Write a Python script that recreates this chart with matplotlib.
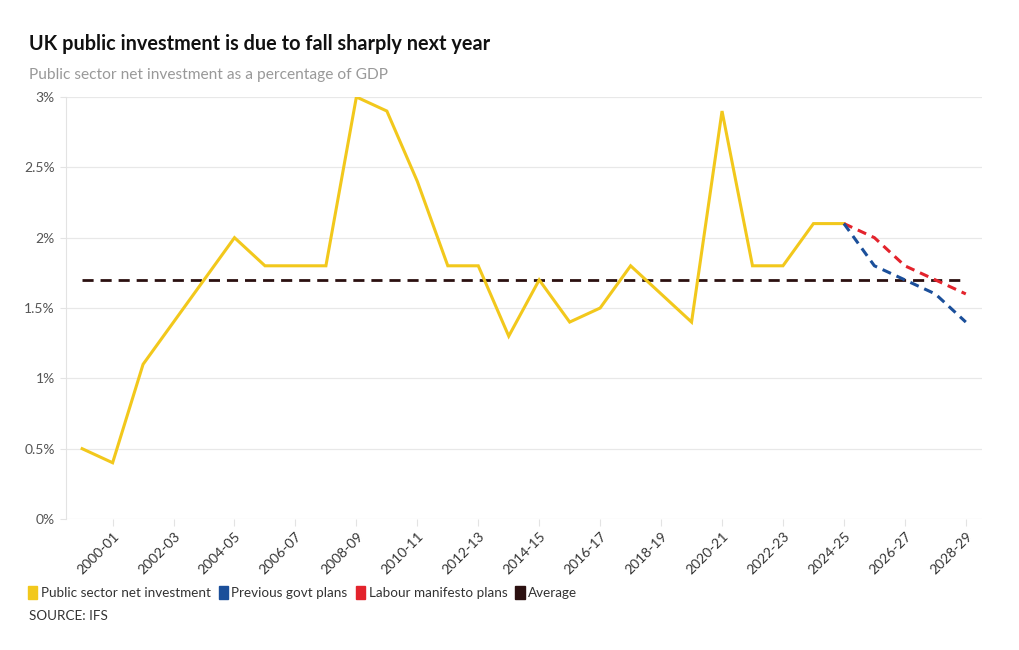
import matplotlib.pyplot as plt
from matplotlib.patches import Patch

plt.rcParams['font.family'] = ['Lato', 'DejaVu Sans']

### Data
years = ["1999-00", "2000-01", "2001-02", "2002-03", "2003-04", "2004-05", "2005-06",
         "2006-07", "2007-08", "2008-09", "2009-10", "2010-11", "2011-12", "2012-13",
         "2013-14", "2014-15", "2015-16", "2016-17", "2017-18", "2018-19", "2019-20",
         "2020-21", "2021-22", "2022-23", "2023-24", "2024-25", "2025-26", "2026-27",
         "2027-28", "2028-29"]
psni = [0.5, 0.4, 1.1, 1.4, 1.7, 2.0, 1.8, 1.8, 1.8, 3.0, 2.9, 2.4, 1.8, 1.8,
        1.3, 1.7, 1.4, 1.5, 1.8, 1.6, 1.4, 2.9, 1.8, 1.8, 2.1, 2.1]
proj_years = ["2024-25", "2025-26", "2026-27", "2027-28", "2028-29"]
previous_govt = [2.1, 1.8, 1.7, 1.6, 1.4]
labour = [2.1, 2.0, 1.8, 1.7, 1.6]
average = 1.7

yellow = "#f2c81c"
blue = "#1b4f9a"
red = "#e3232c"
dark = "#2b1010"

fig = plt.figure(figsize=(10.2, 6.5), dpi=100)
ax = fig.add_axes([0.0647, 0.2015, 0.898, 0.6493])

x = list(range(len(years)))
idx = {y: i for i, y in enumerate(years)}

ax.plot([x[0], x[-1]], [average, average], color=dark, lw=2, ls=(0, (4, 2.5)), zorder=2)
ax.plot(x[:len(psni)], psni, color=yellow, lw=2.2, zorder=3, solid_joinstyle='miter')
px = [idx[y] for y in proj_years]
ax.plot(px, labour, color=red, lw=2.2, ls=(0, (3, 2)), zorder=3)
ax.plot(px, previous_govt, color=blue, lw=2.2, ls=(0, (3, 2)), zorder=4)

ax.set_xlim(-0.53, len(years) - 0.47)
ax.set_ylim(0, 3)
ax.set_yticks([0, 0.5, 1, 1.5, 2, 2.5, 3])
ax.set_yticklabels(["0%", "0.5%", "1%", "1.5%", "2%", "2.5%", "3%"])
ax.set_xticks(x[1::2])
ax.set_xticklabels(years[1::2], rotation=45, ha='right', rotation_mode='anchor')

ax.grid(axis='y', color='#e8e8e8', lw=0.9)
ax.set_axisbelow(True)
for s in ['top', 'right', 'bottom']:
    ax.spines[s].set_visible(False)
ax.spines['left'].set_color('#e3e3e3')
ax.tick_params(axis='y', length=4, color='#e3e3e3', labelsize=10, labelcolor='#555555', pad=4)
ax.tick_params(axis='x', length=5, color='#e3e3e3', labelsize=10, labelcolor='#333333', pad=3)

fig.text(0.028, 0.923, "UK public investment is due to fall sharply next year",
         fontsize=14.3, fontweight='bold', color='#111111')
fig.text(0.028, 0.878, "Public sector net investment as a percentage of GDP",
         fontsize=11.2, color='#999999')

handles = [Patch(facecolor=c, edgecolor=c) for c in [yellow, blue, red, dark]]
labels = ["Public sector net investment", "Previous govt plans", "Labour manifesto plans", "Average"]
leg = fig.legend(handles, labels, loc='lower left', bbox_to_anchor=(0.022, 0.07), ncol=4,
                 frameon=False, handlelength=0.7, handleheight=1.0, handletextpad=0.25,
                 columnspacing=0.6, fontsize=9.7, borderaxespad=0)
for t in leg.get_texts():
    t.set_color('#333333')
fig.text(0.028, 0.046, "SOURCE: IFS", fontsize=9.7, color='#333333')

fig.savefig("out.png", dpi=100)
